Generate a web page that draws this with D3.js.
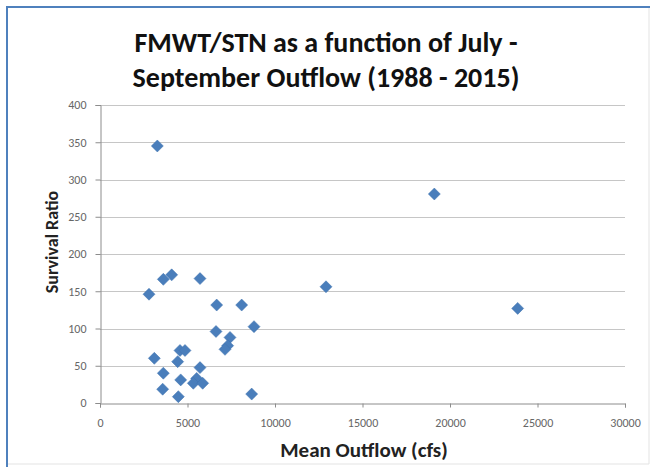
<!DOCTYPE html>
<html>
<head>
<meta charset="utf-8">
<script src="https://cdn.jsdelivr.net/npm/d3@7"></script>
<style>
  html, body { margin: 0; padding: 0; background: #fff; }
  svg { display: block; }
</style>
</head>
<body>
<script>
// Data (Mean July-September outflow in cfs, FMWT/STN survival ratio)
const outflow = [3276, 2800, 3105, 3619, 4095, 5714, 12914, 6667, 8095, 8800, 6629, 7429, 7295, 7143,
                 4571, 4857, 4438, 3619, 4610, 5714, 5524, 5333, 5867, 3581, 4476, 8667, 19105, 23867];
const survival = [345, 146, 60, 166, 172, 167, 156, 131.5, 131.5, 102.5, 96, 88, 77, 72,
                  70.5, 70.5, 55.5, 40, 31, 47.5, 33, 26.5, 26.5, 18.5, 8.5, 12, 280.5, 127];
const xTicks = [0, 5000, 10000, 15000, 20000, 25000, 30000];
const yTicks = [0, 50, 100, 150, 200, 250, 300, 350, 400];
const titleLines = ["FMWT/STN as a function of July -", "September Outflow (1988 - 2015)"];
const xTitle = "Mean Outflow (cfs)";
const yTitle = "Survival Ratio";

const W = 652, H = 467;
const svg = d3.select("body").append("svg").attr("width", W).attr("height", H);

// frame
svg.append("rect").attr("x", 0).attr("y", 0).attr("width", W).attr("height", H).attr("fill", "#fff");
svg.append("line").attr("x1", 649).attr("x2", 649).attr("y1", 7).attr("y2", 464).attr("stroke", "#e3e3e3").attr("stroke-width", 1);
svg.append("line").attr("x1", 7).attr("x2", 649).attr("y1", 464).attr("y2", 464).attr("stroke", "#e3e3e3").attr("stroke-width", 1);
svg.append("line").attr("x1", 7).attr("x2", 7).attr("y1", 6).attr("y2", 467).attr("stroke", "#4f81bd").attr("stroke-width", 2);
svg.append("line").attr("x1", 6).attr("x2", 650).attr("y1", 7).attr("y2", 7).attr("stroke", "#4f81bd").attr("stroke-width", 2);

const pLeft = 100, pRight = 625, pTop = 105, pBottom = 403;
const x = d3.scaleLinear().domain([0, 30000]).range([pLeft, pRight]);
const y = d3.scaleLinear().domain([0, 400]).range([pBottom, pTop]);

// gridlines
svg.append("g").selectAll("line").data(yTicks.filter(d => d > 0)).join("line")
  .attr("x1", pLeft).attr("x2", pRight)
  .attr("y1", d => Math.round(y(d)) + 0.5).attr("y2", d => Math.round(y(d)) + 0.5)
  .attr("stroke", "#c6c6c6").attr("stroke-width", 1);

// axes
const font = "Carlito, Lato, 'Open Sans', sans-serif";
const xAxis = svg.append("g").attr("transform", `translate(0,${pBottom + 0.5})`)
  .call(d3.axisBottom(x).tickValues(xTicks).tickSize(4).tickPadding(11).tickFormat(d3.format("d")));
const yAxis = svg.append("g").attr("transform", `translate(${pLeft + 0.5},0)`)
  .call(d3.axisLeft(y).tickValues(yTicks).tickSize(5).tickPadding(9).tickFormat(d3.format("d")));
[xAxis, yAxis].forEach(g => {
  g.select(".domain").attr("stroke", "#8c8c8c");
  g.selectAll(".tick line").attr("stroke", "#8c8c8c");
  g.selectAll(".tick text").attr("fill", "#666").attr("font-size", 12).attr("font-family", font);
});

// points (diamonds)
const pts = outflow.map((v, i) => [v, survival[i]]);
svg.append("g").selectAll("path").data(pts).join("path")
  .attr("transform", d => `translate(${x(d[0])},${y(d[1])})`)
  .attr("d", "M0,-6L6,0L0,6L-6,0Z")
  .attr("fill", "#4a7ebb").attr("stroke", "#3f72ae").attr("stroke-width", 0.5);

// titles
svg.append("g").selectAll("text").data(titleLines).join("text")
  .attr("x", 326).attr("y", (d, i) => 52 + i * 35)
  .attr("text-anchor", "middle").attr("font-family", font).attr("font-weight", "bold")
  .attr("font-size", 28).attr("fill", "#111").text(d => d);

svg.append("text").attr("x", 364).attr("y", 457).attr("text-anchor", "middle")
  .attr("font-family", font).attr("font-weight", "bold").attr("font-size", 21)
  .attr("fill", "#222").text(xTitle);

svg.append("text").attr("transform", "translate(58,242) rotate(-90)").attr("text-anchor", "middle")
  .attr("font-family", font).attr("font-weight", "bold").attr("font-size", 18)
  .attr("fill", "#222").text(yTitle);
</script>
</body>
</html>
